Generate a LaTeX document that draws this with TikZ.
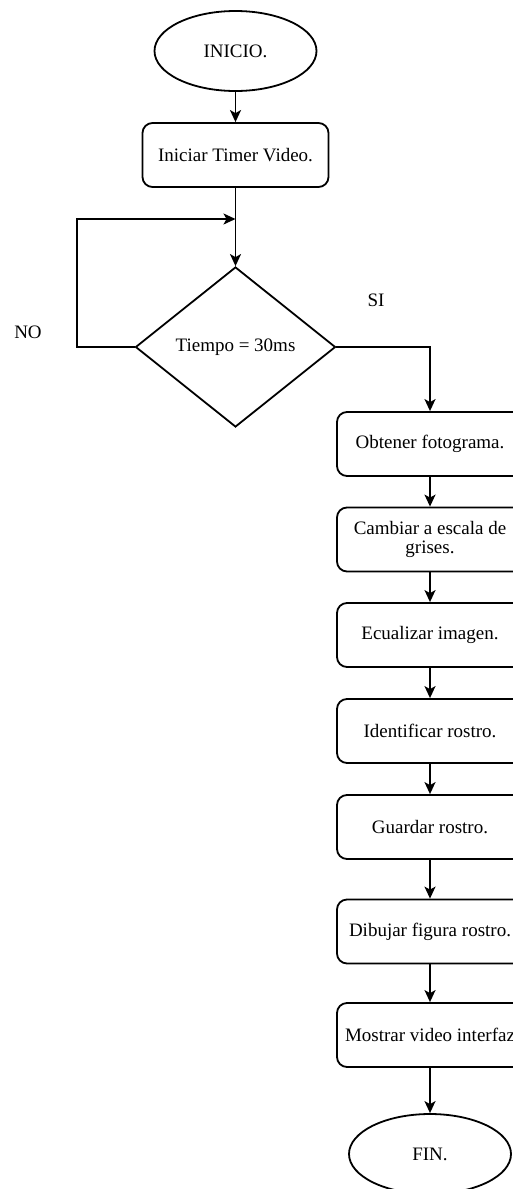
\documentclass[tikz,border=0pt]{standalone}
\usepackage{fontspec}
\setmainfont{Liberation Serif}
\usetikzlibrary{shapes.geometric,arrows.meta}

\begin{document}
\begin{tikzpicture}[x=1pt,y=1pt,
    font=\fontsize{19}{22}\selectfont,
    line width=1.8pt,
    flecha/.style={-{Stealth[length=12pt,width=11pt,inset=3pt]}},
    proceso/.style={draw,rounded corners=10pt,minimum width=186pt,minimum height=64pt,inner sep=2pt,align=center},
    terminal/.style={draw,ellipse,minimum width=162pt,minimum height=80pt},
    decision/.style={draw,diamond,minimum width=200pt,minimum height=160pt,inner sep=0pt}]
    \clip (0,0) rectangle (513,-1189);
    % lado izquierdo
    \node[terminal] (inicio) at (235.5,-51) {INICIO.};
    \node[proceso] (timer) at (235.5,-155) {Iniciar Timer Video.};
    \node[decision] (tiempo) at (235.5,-347) {Tiempo = 30ms};
    \coordinate (union) at (235.5,-219);
    \node (no) at (28,-332) {NO};
    \node (si) at (376,-300) {SI};
    % columna derecha
    \node[proceso] (obtener) at (430,-444) {Obtener fotograma.};
    \node[proceso] (cambiar) at (430,-539.5) {Cambiar a escala de\\[-3pt]grises.};
    \node[proceso] (ecualizar) at (430,-635) {Ecualizar imagen.};
    \node[proceso] (identificar) at (430,-731) {Identificar rostro.};
    \node[proceso] (guardar) at (430,-827) {Guardar rostro.};
    \node[proceso] (dibujar) at (430,-931.5) {Dibujar figura rostro.};
    \node[proceso] (mostrar) at (430,-1035) {Mostrar video interfaz};
    \node[terminal] (fin) at (430,-1154) {FIN.};
    % conexiones
    \draw[flecha] (inicio) -- (timer);
    \draw[flecha] (timer) -- (tiempo);
    \draw[flecha] (tiempo.west) -- (77,-347) |- (union);
    \draw[flecha] (tiempo.east) -| (obtener.north);
    \draw[flecha] (obtener) -- (cambiar);
    \draw[flecha] (cambiar) -- (ecualizar);
    \draw[flecha] (ecualizar) -- (identificar);
    \draw[flecha] (identificar) -- (guardar);
    \draw[flecha] (guardar) -- (dibujar);
    \draw[flecha] (dibujar) -- (mostrar);
    \draw[flecha] (mostrar) -- (fin);
\end{tikzpicture}
\end{document}
